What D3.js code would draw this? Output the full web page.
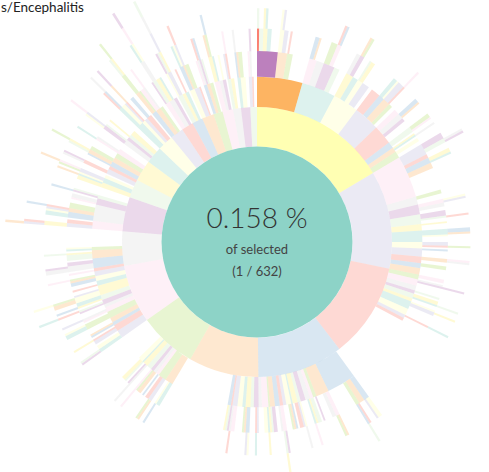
<!DOCTYPE html>
<html>
<head>
<meta charset="utf-8">
<script src="https://cdn.jsdelivr.net/npm/d3@7"></script>
<style>
  body { margin: 0; background: #fff; }
  svg { display: block; font-family: Lato, 'Open Sans', sans-serif; }
</style>
</head>
<body>
<svg width="489" height="472"></svg>
<script>
// each ring level is one step of nesting.
// a number is a count of sequences that stop at that ring,
// a negative number counts sequences that stop at the parent (nothing drawn there)
const b01 = [
  [[[1], 2, [1, 1], 2, -4], [[1, 1], 2, -1], [1, -2], -9],
  [[2, 1, -1], 4, [3, [1, 1], -1], 3, -4],
  [[2, [1, 1]], 3, [1, 2], 4, -2],
  [5, [2, 1], [3, [1]], 2, -2],
  [3, [2, 1], 2, -4],
  [[2, 1], -1], [1, [1], -1], [2, -2]
]
const b02 = [
  [[3, [1, 1], -1], 2, [2, 1], 3, -12],
  [2, -3], [[1, 1], 2, -2], [3, [1], -2], [1, -3], [[2, 1], 1, -3],
  [2, [1], -1], [1, -4], [[1, 1], -2], [2, -1], 4
]
const b03 = [[2, -1], [1, [1], -2], 3, [1, -1], [2, [1]], 2, [1, [1, -1], -2], 4, [[1], -1], 2, -42]
const b04 = [
  -3, [[2, 1], 3, [1, [1]], -10], [[1, 1], 2, -4], [1, -1], [2], [1, [1], -1], 3, [[1], 1],
  [2, -1], [1], [1, 1, -1], 2, [[1, [1]]], [1, -2], [2, 1], [1], [[1], 2, -1], 2
]
const b05 = [[1, [1], -1], 2, [[1, 1], 1], [1, -1], 3, [2, [1]], [1], [1, 1], -34]
const b06 = [-2, [2, [1], -2], [[1, 1], 2, -1], [1, -1], [2], [1, [1]], 3, [[1], 1, -1], [1], [2, -1], -16]
const b07 = [
  [[1, 1], 2, -1], [2, [1], -1], [1, 1], 3, [[2, 1], -1], [1, [1], -1], 2,
  [1, [[1]], -1], [[1], 2], [[2, [1]], 1, -2], [1, -2], [2, 1], [[1], -2]
]
const b08 = [[1, -1], [[2, 1], 2, -1], [3, [1], -1], [1, 1], -11]
const b09 = [[[[[1], 1]], 2, -1], [[2, 1], [1, [1]], 3, -2], [1, 2, -1], [[1], 1], -5]
const b10 = [[2, [1]], [1, [1, [1]]], 2, -1, [[1, 1], -1], 2]
const b11 = [[1, [1, [1]]], [2, -1], 3, [[1], 1, -1], -4]
const b12 = [[[1, [1]], 1], 2, [1, -1], 3, -3]
const b13 = [[[1, [1]], 2], [1, [[1]]], 2, [2, -1], -1]
const b14 = [[[[1, [1]]], 1], [2, [1]], 2, -2]
const b15 = [[1, [[1, [[1]]]]], [2, 1], 2, -1]
const b16 = [[[1], [1, [[[1]]]]], 2, [1, -1], -1]
const b17 = [[[1, 1], [[1]]], [2, -1], 1, -2]
const b18 = [[1, [1]], [[1], 1], 2, -1]
const b19 = [[[1, [1]], 1], 2, [1, -1], -1]
const b20 = [[1, [1]], 2, -2]
const b21 = [[[1], 1], [2, -1], -2]
const b22 = [[1, [1]], 1, -2]

const branches = [b01, b02, b03, b04, b05, b06, b07, b08, b09, b10, b11,
  b12, b13, b14, b15, b16, b17, b18, b19, b20, b21, b22]

// child index at each ring for the highlighted sequence
const selectedPath = [0, 0, 0, 0]
const selectedColors = ['#ffffb3', '#fdb462', '#bc80bd', '#fb8072']
const selectedLabel = 's/Encephalitis'

const svg = d3.select('svg')
const cx = 257, cy = 242

const toNode = v => Array.isArray(v)
  ? {children: v.map(toNode)}
  : (v < 0 ? {value: -v, gap: true} : {value: v})

const root = d3.hierarchy({children: branches.map(toNode)})
  .sum(d => d.value || 0)
d3.partition().size([2 * Math.PI, 1])(root)

// colours run through Set3 in ring order, root first
const nodes = root.descendants().filter(d => !d.data.gap)
nodes.forEach((d, i) => { d.fill = d3.schemeSet3[i % 12] })

let sel = root
const onPath = new Set([root])
selectedPath.forEach((k, i) => {
  sel = sel.children[k]
  sel.fill = selectedColors[i]
  onPath.add(sel)
})

const radius = d3.scaleSqrt().domain([0, 8]).range([0, 270])
const arc = d3.arc()
  .startAngle(d => d.x0)
  .endAngle(d => d.x1)
  .innerRadius(d => radius(d.depth))
  .outerRadius(d => radius(d.depth + 1))

const g = svg.append('g').attr('transform', `translate(${cx}, ${cy})`)

g.selectAll('path')
  .data(nodes.filter(d => d.depth > 0))
  .join('path')
  .attr('d', arc)
  .attr('fill', d => d.fill)
  .attr('opacity', d => onPath.has(d) ? 1 : 0.3)

g.append('circle')
  .attr('r', radius(1))
  .attr('fill', root.fill)

const pct = sel.value / root.value * 100
g.append('text')
  .attr('text-anchor', 'middle')
  .attr('y', -14)
  .attr('fill', '#333')
  .style('font-size', '28px')
  .style('font-weight', 300)
  .text(`${pct.toFixed(3)} %`)

g.append('text')
  .attr('text-anchor', 'middle')
  .attr('y', 12)
  .attr('fill', '#444')
  .style('font-size', '13px')
  .text('of selected')

g.append('text')
  .attr('text-anchor', 'middle')
  .attr('y', 34)
  .attr('fill', '#444')
  .style('font-size', '13px')
  .text(`(${sel.value} / ${root.value})`)

svg.append('text')
  .attr('x', 1)
  .attr('y', 12)
  .attr('fill', '#222')
  .style('font-size', '13.5px')
  .text(selectedLabel)
</script>
</body>
</html>
